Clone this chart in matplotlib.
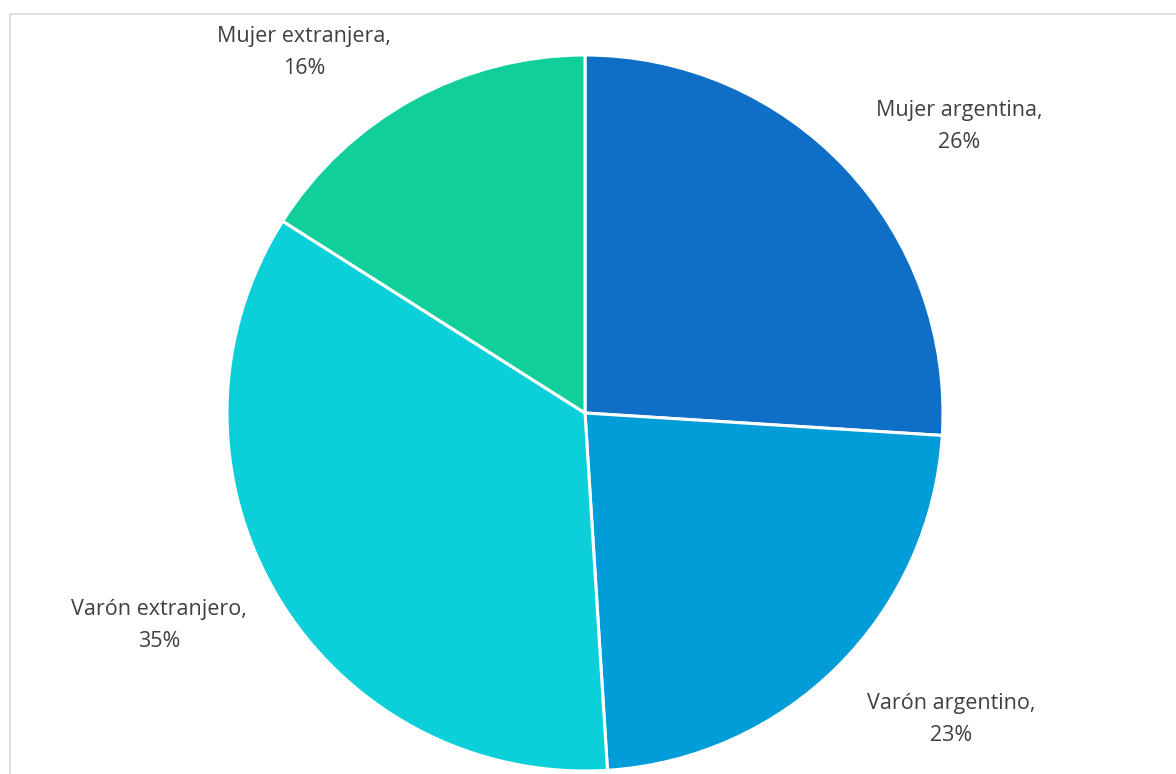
import matplotlib
matplotlib.use("Agg")
import matplotlib.pyplot as plt
from matplotlib.patches import Rectangle

categories = ["Mujer argentina", "Varón argentino", "Varón extranjero", "Mujer extranjera"]
values = [26, 23, 35, 16]
colors = ["#0F6FC6", "#009DD9", "#0BD0D9", "#10CF9B"]
label_pos = [(1.045, 0.800), (1.022, -0.856), (-1.190, -0.594), (-0.785, 1.006)]

plt.rcParams['font.family'] = ['Open Sans', 'DejaVu Sans']

W, H = 1176, 774
fig = plt.figure(figsize=(W / 100, H / 100), dpi=100)
fig.patch.set_facecolor("white")

cx, cy, r = 585, 413, 358
ax = fig.add_axes([(cx - r) / W, (H - cy - r) / H, 2 * r / W, 2 * r / H])
ax.set_xlim(-1, 1)
ax.set_ylim(-1, 1)
ax.set_aspect("equal")
ax.axis("off")

ax.pie(values, colors=colors, startangle=90, counterclock=False, radius=1,
       wedgeprops=dict(edgecolor="white", linewidth=2.2), frame=False)
ax.set_xlim(-1, 1)
ax.set_ylim(-1, 1)

for cat, val, (x, y) in zip(categories, values, label_pos):
    ax.text(x, y, f"{cat},\n{val}%", ha="center", va="center", fontsize=15.5,
            color="#404040", linespacing=1.68, clip_on=False)

fig.patches.append(Rectangle((10 / W, -0.1), 1.2, (H - 14) / H + 0.1, transform=fig.transFigure,
                             fill=False, edgecolor="#D9D9D9", linewidth=1.2))

fig.savefig("out.png", dpi=100, facecolor="white")
